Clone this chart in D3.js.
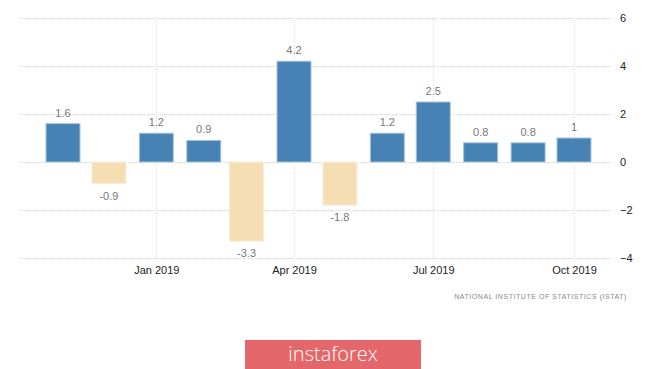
<!DOCTYPE html>
<html>
<head>
<meta charset="utf-8">
<script src="https://cdn.jsdelivr.net/npm/d3@7"></script>
<style>
  body { margin: 0; background: #fff; }
  svg { display: block; font-family: "Liberation Sans", Arial, sans-serif; }
</style>
</head>
<body>
<div id="chartBox"></div>
<script>
var months = ["2018-11", "2018-12", "2019-01", "2019-02", "2019-03", "2019-04",
              "2019-05", "2019-06", "2019-07", "2019-08", "2019-09", "2019-10"];
var values = [1.6, -0.9, 1.2, 0.9, -3.3, 4.2, -1.8, 1.2, 2.5, 0.8, 0.8, 1];
var yTicks = [-4, -2, 0, 2, 4, 6];
var xTicks = ["2019-01", "2019-04", "2019-07", "2019-10"];
var source = "NATIONAL INSTITUTE OF STATISTICS (ISTAT)";

var w = 665, h = 369;
var parse = d3.timeParse("%Y-%m");

var svg = d3.select("#chartBox")
  .append("svg")
  .attr("width", w)
  .attr("height", h);

var x = d3.scaleTime()
  .domain([parse("2018-11"), parse("2019-10")])
  .range([63, 574]);

var y = d3.scaleLinear()
  .domain([-4, 6])
  .range([258, 18]);

// horizontal grid
svg.append("g")
  .selectAll("line")
  .data(yTicks)
  .enter()
    .append("line")
    .attr("x1", 20)
    .attr("x2", 612)
    .attr("y1", function(d) { return y(d) + 0.5; })
    .attr("y2", function(d) { return y(d) + 0.5; })
    .style("stroke", "#d4d4d4")
    .style("stroke-dasharray", "1,1");

// vertical grid at tick months
svg.append("g")
  .selectAll("line")
  .data(xTicks)
  .enter()
    .append("line")
    .attr("x1", function(d) { return Math.round(x(parse(d))) + 0.5; })
    .attr("x2", function(d) { return Math.round(x(parse(d))) + 0.5; })
    .attr("y1", 18)
    .attr("y2", 262)
    .style("stroke", "#e0e0e0")
    .style("stroke-dasharray", "1,1");

// y axis on the right
var yAxis = svg.append("g")
  .attr("transform", "translate(612,0)")
  .call(d3.axisRight(y).tickValues(yTicks).tickSize(0).tickPadding(8));
yAxis.select(".domain").remove();
yAxis.selectAll("text")
  .style("font-size", "11px")
  .style("fill", "#222");

// x axis labels
var xAxis = svg.append("g")
  .attr("transform", "translate(0,262)")
  .call(d3.axisBottom(x)
    .tickValues(xTicks.map(parse))
    .tickFormat(d3.timeFormat("%b %Y"))
    .tickSize(0)
    .tickPadding(4));
xAxis.select(".domain").remove();
xAxis.selectAll("text")
  .style("font-size", "11px")
  .style("fill", "#222");

var barW = 34;

svg.append("g")
  .selectAll("rect")
  .data(values)
  .enter()
    .append("rect")
    .attr("x", function(d, i) { return x(parse(months[i])) - barW / 2; })
    .attr("y", function(d) { return y(Math.max(0, d)); })
    .attr("width", barW)
    .attr("height", function(d) { return Math.abs(y(d) - y(0)); })
    .style("fill", function(d) { return d >= 0 ? "#4682b4" : "#f5deb3"; })
    .style("stroke", function(d) { return d >= 0 ? "#a9c4dc" : "#fbeed7"; })
    .style("stroke-width", 1);

svg.append("g")
  .selectAll("text")
  .data(values)
  .enter()
    .append("text")
    .attr("x", function(d, i) { return x(parse(months[i])); })
    .attr("y", function(d) { return d >= 0 ? y(d) - 7 : y(d) + 16; })
    .attr("text-anchor", "middle")
    .style("font-size", "11px")
    .style("fill", "#777")
    .text(function(d) { return d; });

svg.append("text")
  .attr("x", 627)
  .attr("y", 299)
  .attr("text-anchor", "end")
  .style("font-size", "7px")
  .style("letter-spacing", "0.55px")
  .style("fill", "#888")
  .text(source);

// banner
svg.append("rect")
  .attr("x", 245)
  .attr("y", 340)
  .attr("width", 176)
  .attr("height", 29)
  .style("fill", "#e4686b");

svg.append("text")
  .attr("x", 333)
  .attr("y", 361)
  .attr("text-anchor", "middle")
  .style("font-family", "'Open Sans', sans-serif")
  .style("font-weight", 300)
  .style("font-size", "20px")
  .style("fill", "#fff")
  .text("instaforex");
</script>
</body>
</html>
